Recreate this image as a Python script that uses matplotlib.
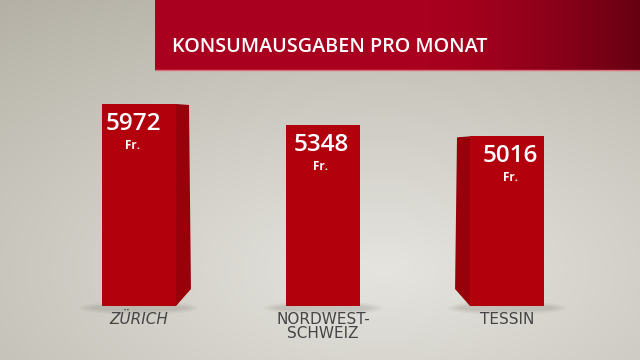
import numpy as np
import matplotlib
matplotlib.use("Agg")
import matplotlib.pyplot as plt
from matplotlib.patches import Polygon, Ellipse

title = "KONSUMAUSGABEN PRO MONAT"
categories = ["ZÜRICH", "NORDWEST-\nSCHWEIZ", "TESSIN"]
values = [5972, 5348, 5016]
unit = "Fr."

W, H = 640, 360
fig = plt.figure(figsize=(6.4, 3.6), dpi=100)
ax = fig.add_axes([0, 0, 1, 1])

PX_X = 184.0
X0 = 139.0
BASE = 306.0
PX_V = 202.0 / 5972.0
ax.set_xlim(-X0 / PX_X, (W - X0) / PX_X)
ax.set_ylim(-(H - BASE) / PX_V, BASE / PX_V)
ax.axis("off")

def dx(px):
    return px / PX_X

def dv(px):
    return px / PX_V

# background gradient
yy, xx = np.mgrid[0:1:200j, 0:1:360j]
d = np.sqrt((xx - 0.6) ** 2 * 0.8 + (yy - 0.75) ** 2)
t = np.clip(d / 0.95, 0, 1)
light = np.array([0.90, 0.895, 0.875])
dark = np.array([0.70, 0.685, 0.64])
bg = light[None, None, :] * (1 - t[..., None]) + dark[None, None, :] * t[..., None]
ax.imshow(bg[::-1], extent=[0, 1, 0, 1], transform=ax.transAxes, origin="lower",
          aspect="auto", zorder=0, interpolation="bilinear")

# title banner
bx = np.linspace(0, 1, 300)
s = np.clip((bx - 0.55) / 0.45, 0, 1) ** 1.6
c1 = np.array([0.66, 0.0, 0.12])
c2 = np.array([0.40, 0.0, 0.07])
band = c1[None, :] * (1 - s[:, None]) + c2[None, :] * s[:, None]
band = np.repeat(band[None, :, :], 20, axis=0)
bl, bb = 155 / W, 1 - 71 / H
ax.imshow(band, extent=[bl, 1, bb, 1], transform=ax.transAxes, aspect="auto",
          zorder=1, interpolation="bilinear")
ax.plot([bl, 1], [bb + 0.002, bb + 0.002], transform=ax.transAxes,
        color="#d9707a", lw=1.0, zorder=2)
ax.text(172 / W, 1 - 47 / H, title, transform=ax.transAxes, color="white",
        fontsize=14.2, fontfamily="Open Sans", fontweight="semibold",
        va="center", ha="left", zorder=3)

xs = np.arange(len(values))
width = dx(74)
front = "#b2000c"
side = "#98000a"

# soft shadows
for x in xs:
    for k, a in zip([1.0, 0.75, 0.5], [0.05, 0.06, 0.08]):
        ax.add_patch(Ellipse((x, dv(-2)), width * (1.1 + k * 0.5), dv(14 * k),
                             color="#555048", alpha=a, lw=0, zorder=3))

bars = ax.bar(xs, values, width=width, color=front, zorder=5)

# side faces facing the centre
for x, v in zip(xs, values):
    direction = np.sign(1 - x)
    if direction == 0:
        continue
    edge = x + direction * width / 2
    off = direction * dx(13)
    poly = Polygon([(edge, v), (edge + off, v - dv(1)),
                    (edge + off * 1.15, dv(17)), (edge, 0)],
                   closed=True, color=side, lw=0, zorder=4)
    ax.add_patch(poly)

# value labels
offsets = [-6, -2, 3]
for x, v, o in zip(xs, values, offsets):
    ax.text(x + dx(o), v - dv(20), f"{v}", color="white", fontsize=17.5,
            fontfamily="Open Sans", fontweight="semibold", ha="center", va="center",
            zorder=6)
    ax.text(x + dx(o), v - dv(41), unit, color="white", fontsize=8.5,
            fontfamily="Open Sans", fontweight="bold", ha="center", va="center",
            zorder=6)

# category labels
styles = ["italic", "normal", "normal"]
for x, lab, st in zip(xs, categories, styles):
    ax.text(x, dv(-6), lab, color="#454545", fontsize=11,
            fontfamily="DejaVu Sans", style=st, ha="center", va="top",
            linespacing=0.95, zorder=6)

fig.savefig("out.png", dpi=100)
